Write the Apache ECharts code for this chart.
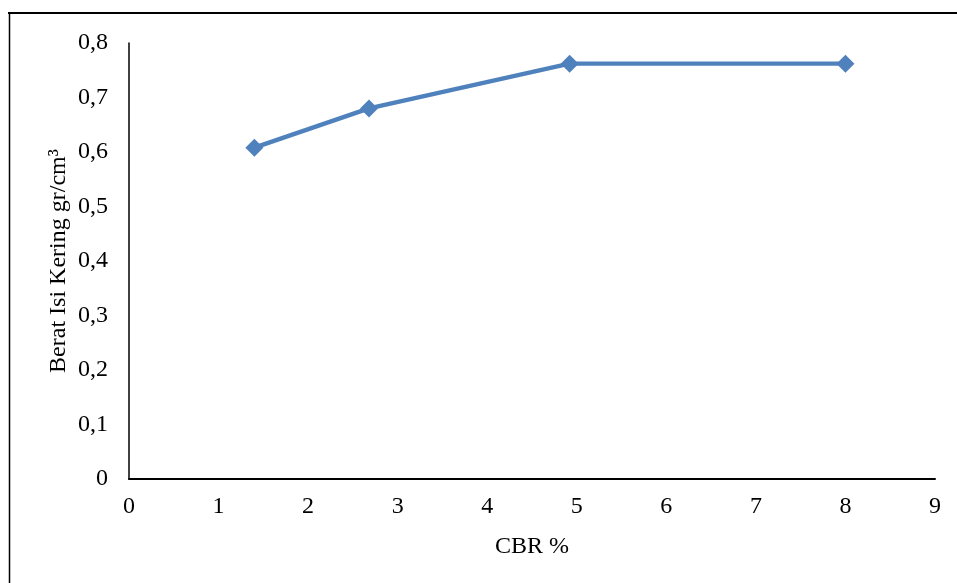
<!DOCTYPE html>
<html><head><meta charset="utf-8">
<script src="https://cdn.jsdelivr.net/npm/echarts@6/dist/echarts.min.js"></script>
<style>html,body{margin:0;padding:0;background:#fff}#c{width:957px;height:583px}</style>
</head><body><div id="c"></div>
<script>
const cbr = [1.4, 2.68, 4.92, 8.0];
const beratIsi = [0.608, 0.68, 0.762, 0.762];
const xName = 'CBR %';
const yName = 'Berat Isi Kering gr/cm³';

const chart = echarts.init(document.getElementById('c'));
const font = '"Liberation Serif","Times New Roman",serif';
chart.setOption({
  backgroundColor: '#fff',
  animation: false,
  graphic: [
    {type:'line', shape:{x1:8, y1:13, x2:957, y2:13}, style:{stroke:'#000', lineWidth:2}},
    {type:'line', shape:{x1:9.5, y1:13, x2:9.5, y2:583}, style:{stroke:'#000', lineWidth:1.5}}
  ],
  grid: {left:129, right:22, top:43, bottom:104},
  xAxis: {
    type:'value', min:0, max:9, interval:1,
    name:xName, nameLocation:'middle', nameGap:56,
    nameTextStyle:{fontFamily:font, fontSize:24, color:'#000'},
    axisLine:{show:true, lineStyle:{color:'#000', width:2}},
    axisTick:{show:false},
    splitLine:{show:false},
    axisLabel:{fontFamily:font, fontSize:24, color:'#000', margin:16}
  },
  yAxis: {
    type:'value', min:0, max:0.8, interval:0.1,
    name:yName, nameLocation:'middle', nameGap:58, nameMoveOverlap:false,
    nameTextStyle:{fontFamily:font, fontSize:24, color:'#000'},
    axisLine:{show:true, lineStyle:{color:'#000', width:1.5}},
    axisTick:{show:false},
    splitLine:{show:false},
    axisLabel:{fontFamily:font, fontSize:24, color:'#000', margin:21,
      formatter: v => v === 0 ? '0' : v.toFixed(1).replace('.', ',')}
  },
  series: [{
    type:'line',
    data: cbr.map((x,i)=>[x, beratIsi[i]]),
    symbol:'diamond', symbolSize:18,
    lineStyle:{color:'#4F81BD', width:4.3},
    itemStyle:{color:'#4F81BD'}
  }]
});
</script></body></html>
